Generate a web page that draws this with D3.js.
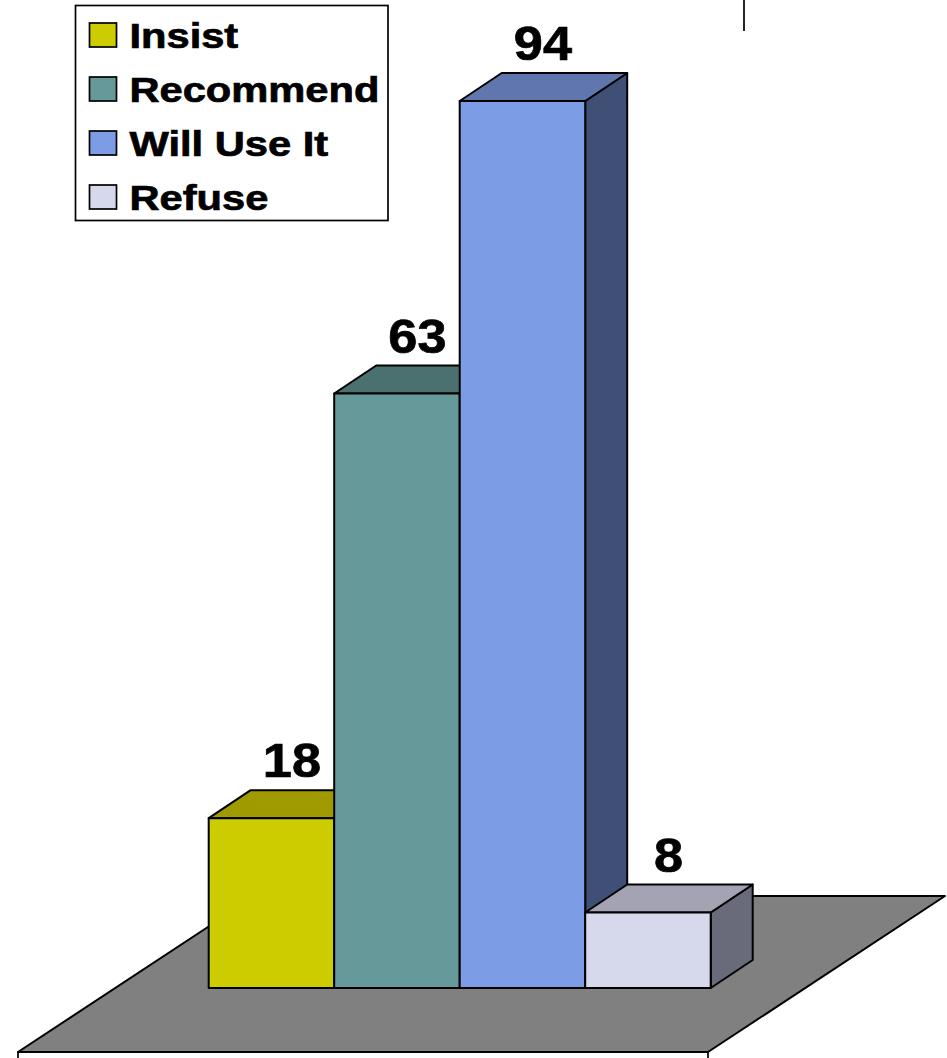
<!DOCTYPE html>
<html><head><meta charset="utf-8">
<script src="https://cdn.jsdelivr.net/npm/d3@7"></script>
<style>html,body{margin:0;padding:0;background:#fff}svg{display:block}text{font-family:"Liberation Sans",Arial,sans-serif;font-weight:700;fill:#000;stroke:#000;stroke-width:.7px}</style>
</head><body><div id="c"></div>
<script>
const categories = ["Insist","Recommend","Will Use It","Refuse"];
const values = [18,63,94,8];
const frontColors = ["#cccc00","#669999","#7d9ce6","#d6d8ec"];
const topColors = ["#9e9a00","#4a7070","#5f77ae","#a3a3b3"];
const sideColors = ["#8a8a00","#3f6060","#3f4f76","#6a6b7a"];

const W=947,H=1058, baseY=988, dx=42, dy=-28;
const svg=d3.select("#c").append("svg").attr("width",W).attr("height",H);
const x=d3.scaleBand().domain(categories).range([208.7,710.7]).padding(0);
const y=d3.scaleLinear().domain([0,94]).range([baseY,101]);
const line=d3.line();
const poly=(pts,fill)=>svg.append("path").attr("d",line(pts)+"Z").attr("fill",fill)
  .attr("stroke","#000").attr("stroke-width",2).attr("stroke-linejoin","round");

// floor
poly([[18,1052],[708,1052],[945,896],[255,896]],"#808080");
svg.append("path").attr("d","M18,1052V1058M708,1052V1058M744,0V31").attr("stroke","#000").attr("stroke-width",1.7).attr("fill","none");

// bars
categories.forEach((c,i)=>{
  const l=x(c), r=l+x.bandwidth(), t=y(values[i]), b=y(0);
  poly([[r,t],[r+dx,t+dy],[r+dx,b+dy],[r,b]],sideColors[i]);
  poly([[l,t],[l+dx,t+dy],[r+dx,t+dy],[r,t]],topColors[i]);
  poly([[l,t],[r,t],[r,b],[l,b]],frontColors[i]);
});
// value labels
categories.forEach((c,i)=>{
  svg.append("text").text(values[i])
    .attr("text-anchor","middle").attr("font-size",48)
    .attr("transform",`translate(${x(c)+x.bandwidth()/2+20.5},${y(values[i])-41}) scale(1.09,1)`);
});
// legend
svg.append("rect").attr("x",75.5).attr("y",5.5).attr("width",312.5).attr("height",215)
  .attr("fill","#fff").attr("stroke","#000").attr("stroke-width",1.7);
const ly=d3.scalePoint().domain(categories).range([35,197]);
categories.forEach((c,i)=>{
  svg.append("rect").attr("x",89.5).attr("y",ly(c)-12).attr("width",27).attr("height",24)
    .attr("fill",frontColors[i]).attr("stroke","#000").attr("stroke-width",1.7);
  svg.append("text").text(c).attr("font-size",35)
    .attr("transform",`translate(129.5,${ly(c)+12.7}) scale(1.19,1)`);
});
</script></body></html>
